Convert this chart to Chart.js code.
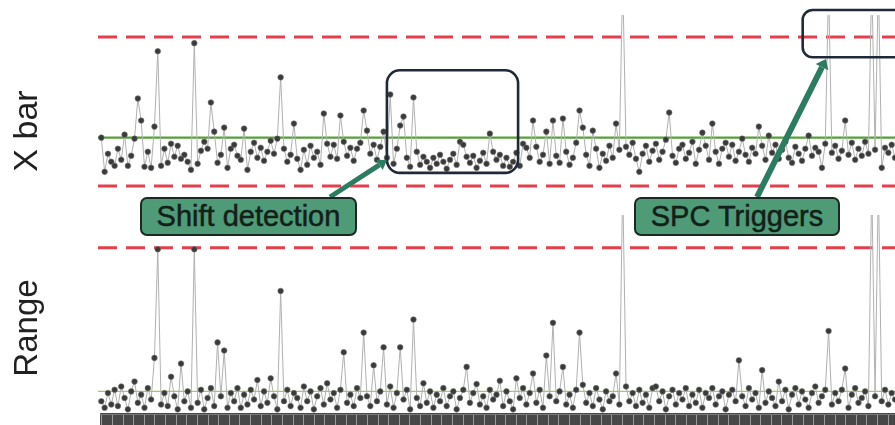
<!DOCTYPE html>
<html>
<head>
<meta charset="utf-8">
<script src="https://cdn.jsdelivr.net/npm/chart.js@4/dist/chart.umd.min.js"></script>
<style>
html, body { margin: 0; padding: 0; background: #fff; }
#wrap { position: relative; width: 895px; height: 425px; overflow: hidden; background: #fff;
        font-family: "Liberation Sans", Arial, sans-serif; }
#wrap canvas { position: absolute; left: 0; }
#cRange { top: 200px; z-index: 1; }
#cXbar { top: 0; z-index: 2; }
.axis-title { position: absolute; z-index: 3; color: #202020; white-space: nowrap;
              transform: translate(-50%, -50%) rotate(-90deg); }
#tX { left: 25px; top: 131px; font-size: 34px; line-height: 34px; }
#tR { left: 25px; top: 328px; font-size: 33px; line-height: 33px; }
.callout { position: absolute; z-index: 3; box-sizing: border-box; background: #4f9b77;
           border: 2px solid #1b2923; border-radius: 7px; color: #13201a;
           font-size: 29px; line-height: 35px; text-align: center; white-space: nowrap;
           -webkit-text-stroke: 0.5px #13201a; }
#lShift { left: 140px; top: 197px; width: 217px; height: 39px; }
#lSpc { left: 634px; top: 197px; width: 206px; height: 39px; }
</style>
</head>
<body>
<div id="wrap">
  <canvas id="cRange" width="895" height="225"></canvas>
  <canvas id="cXbar" width="895" height="245"></canvas>
  <div class="axis-title" id="tX">X bar</div>
  <div class="axis-title" id="tR">Range</div>
  <div class="callout" id="lShift">Shift detection</div>
  <div class="callout" id="lSpc">SPC Triggers</div>
</div>
<script>
// Subgroup means, one per sample (index = sample number)
const xbarValues = [
  50.0, 46.6, 48.4, 47.6, 47.2, 48.9, 47.8, 50.3, 47.2, 48.2, 49.9, 53.9, 51.7, 47.1, 48.6, 47.0, 51.1, 58.6, 47.2, 48.9,
  47.5, 49.4, 48.1, 49.2, 47.9, 48.3, 47.6, 46.8, 59.4, 47.4, 48.7, 49.6, 48.9, 53.5, 50.6, 47.5, 48.3, 51.0, 47.0, 48.9,
  49.3, 48.2, 47.8, 50.9, 46.8, 48.6, 49.5, 48.0, 49.0, 47.7, 48.6, 49.7, 48.4, 49.9, 56.0, 48.9, 47.6, 48.3, 51.4, 47.9,
  46.8, 48.8, 47.3, 49.2, 48.0, 48.6, 47.3, 52.4, 49.4, 48.1, 49.3, 47.9, 52.2, 49.6, 48.2, 49.0, 47.7, 48.9, 49.5, 52.7,
  50.7, 48.4, 49.3, 47.8, 49.1, 50.6, 48.0, 54.3, 47.4, 48.9, 51.2, 52.1, 48.0, 47.1, 54.0, 48.6, 47.3, 48.1, 47.6, 47.0,
  48.0, 47.4, 48.3, 47.6, 46.9, 47.8, 48.4, 47.3, 49.6, 49.3, 48.1, 47.5, 48.2, 47.0, 47.7, 48.5, 47.4, 50.4, 48.6, 47.8,
  48.3, 47.2, 48.0, 47.1, 47.6, 48.5, 47.2, 49.4, 49.0, 48.0, 51.7, 49.1, 47.6, 48.3, 50.6, 47.4, 51.7, 48.2, 47.5, 51.9,
  48.6, 47.3, 48.0, 49.5, 52.7, 51.0, 48.3, 47.2, 50.7, 48.9, 47.0, 48.4, 47.7, 49.2, 48.0, 51.4, 48.8, 66.0, 49.1, 48.3,
  49.5, 47.9, 46.6, 48.4, 49.2, 47.6, 48.7, 49.4, 47.8, 48.6, 49.8, 52.5, 48.2, 47.5, 48.9, 49.3, 47.9, 48.5, 49.6, 47.4,
  48.8, 50.5, 49.2, 47.8, 51.4, 48.6, 47.4, 48.9, 49.5, 48.1, 49.3, 47.7, 48.6, 49.9, 48.3, 47.6, 49.0, 48.4, 51.1, 49.2,
  47.8, 50.2, 48.5, 49.3, 47.9, 48.8, 49.6, 48.0, 47.5, 49.1, 48.4, 47.7, 48.9, 50.2, 48.2, 49.0, 48.6, 47.0, 49.4, 65.0,
  48.5, 49.2, 47.9, 48.7, 51.7, 48.3, 49.5, 47.8, 48.9, 48.2, 49.6, 48.4, 66.0, 48.8, 65.5, 47.0, 49.0, 48.5, 49.3, 48.0
];

// Subgroup ranges, same samples
const rangeValues = [
  0.6, 0.2, 1.1, 0.4, 1.3, 0.3, 1.5, 0.8, 0.1, 1.2, 1.8, 0.5, 1.0, 0.2, 1.4, 0.7, 3.25, 9.9, 0.4, 1.1,
  0.3, 2.1, 0.9, 0.1, 2.9, 0.6, 1.2, 0.2, 9.9, 0.5, 1.3, 0.1, 0.8, 1.4, 0.3, 4.2, 0.9, 3.7, 0.2, 1.1,
  0.6, 1.4, 0.2, 1.0, 0.4, 1.3, 0.7, 1.9, 0.3, 1.2, 0.5, 2.0, 0.9, 0.1, 7.35, 0.6, 1.3, 0.3, 1.1, 0.8,
  0.2, 1.5, 0.6, 1.2, 0.1, 0.9, 1.4, 0.4, 1.7, 0.7, 1.1, 0.2, 1.3, 3.6, 0.5, 1.0, 0.3, 1.4, 0.8, 4.8,
  0.9, 0.3, 2.8, 0.6, 1.2, 3.9, 0.4, 1.5, 0.2, 1.1, 3.9, 0.7, 1.3, 0.1, 5.6, 0.8, 0.3, 1.7, 0.5, 1.2,
  0.2, 1.0, 0.6, 1.4, 0.3, 0.9, 1.2, 0.1, 0.8, 1.3, 2.7, 0.5, 1.1, 1.65, 0.4, 0.9, 0.2, 1.3, 0.7, 1.0,
  1.85, 0.3, 1.2, 0.6, 0.1, 2.0, 0.8, 1.4, 0.4, 1.1, 2.3, 0.5, 1.3, 0.2, 3.4, 0.9, 5.4, 0.6, 1.2, 2.7,
  0.4, 1.0, 0.2, 1.3, 4.8, 1.6, 0.5, 1.1, 0.3, 1.4, 0.7, 0.1, 1.2, 0.6, 0.9, 2.3, 0.4, 14.0, 1.5, 0.6,
  1.1, 0.3, 1.3, 0.5, 1.0, 0.2, 1.4, 1.5, 0.6, 1.2, 0.1, 0.9, 1.3, 0.4, 1.1, 0.7, 1.4, 0.3, 1.0, 0.5,
  1.3, 0.2, 1.1, 0.8, 1.4, 0.4, 0.9, 1.2, 0.1, 1.0, 1.3, 0.6, 3.1, 0.9, 0.3, 1.4, 0.7, 1.1, 0.2, 2.5,
  0.5, 1.2, 0.8, 0.3, 1.8, 0.6, 1.3, 0.1, 1.0, 1.4, 0.4, 1.2, 0.7, 0.2, 1.1, 1.5, 0.5, 0.9, 1.3, 4.9,
  0.4, 1.1, 0.6, 1.3, 2.6, 0.2, 1.0, 1.4, 0.5, 0.8, 1.2, 0.3, 14.0, 0.9, 14.0, 0.6, 1.3, 0.4, 1.1, 0.7
];

// Control limits
const xbarLimits = { ucl: 60.0, center: 50.0, lcl: 45.2 };
const rangeLimits = { ucl: 10.0, center: 1.2 };

// Visible value windows of the two panels
const xbarAxis = { min: 43.8, max: 62.2 };
const rangeAxis = { min: 0, max: 12 };
const sampleAxis = { min: -1, max: xbarValues.length - 1 };

// Highlight frames on the X bar panel (sample span, value span)
const frames = [
  { from: 86, to: 125.5, hi: 56.7, lo: 46.5, radius: 13 },
  { from: 211.2, to: 246, hi: 62.7, lo: 58.0, radius: 10 }
];
// Pointers from the callouts up to the frames (page pixels)
const pointers = [
  { from: [330, 197], to: [387, 160], width: 5 },
  { from: [757, 197], to: [826, 59], width: 6 }
];

const toPoints = arr => arr.map((v, i) => ({ x: i, y: v }));
const flat = v => [{ x: sampleAxis.min, y: v }, { x: sampleAxis.max, y: v }];

const seriesStyle = {
  borderColor: '#b0b0b0',
  borderWidth: 1,
  pointRadius: 2.8,
  pointBackgroundColor: '#3a3a3a',
  pointBorderColor: '#6e6e6e',
  pointBorderWidth: 0.6,
  tension: 0,
  order: 0,
  clip: { left: 6, top: 0, right: 0, bottom: 4 }
};
const limitStyle = {
  borderColor: '#e3404e', borderWidth: 3, borderDash: [19, 9],
  pointRadius: 0, order: 3, clip: false
};

const baseOptions = (yRange, pad) => ({
  responsive: false,
  animation: false,
  devicePixelRatio: 1,
  events: [],
  layout: { padding: pad, autoPadding: false },
  plugins: { legend: { display: false }, tooltip: { enabled: false } },
  scales: {
    x: { type: 'linear', min: sampleAxis.min, max: sampleAxis.max, display: false },
    y: { type: 'linear', min: yRange.min, max: yRange.max, display: false }
  }
});

function roundRectPath(ctx, x, y, w, h, r) {
  ctx.beginPath();
  ctx.moveTo(x + r, y);
  ctx.lineTo(x + w - r, y);
  ctx.arcTo(x + w, y, x + w, y + r, r);
  ctx.lineTo(x + w, y + h - r);
  ctx.arcTo(x + w, y + h, x + w - r, y + h, r);
  ctx.lineTo(x + r, y + h);
  ctx.arcTo(x, y + h, x, y + h - r, r);
  ctx.lineTo(x, y + r);
  ctx.arcTo(x, y, x + r, y, r);
  ctx.closePath();
}

// Frames and pointer arrows drawn over the X bar panel
const annotationLayer = {
  id: 'annotationLayer',
  afterDatasetsDraw(chart) {
    const { ctx, scales: { x, y } } = chart;
    ctx.save();
    ctx.strokeStyle = '#1e2a38';
    ctx.lineWidth = 2.6;
    frames.forEach(f => {
      const l = x.getPixelForValue(f.from), r = x.getPixelForValue(f.to);
      const t = y.getPixelForValue(f.hi), b = y.getPixelForValue(f.lo);
      roundRectPath(ctx, l, t, r - l, b - t, f.radius);
      ctx.stroke();
    });
    ctx.strokeStyle = '#2d7b60';
    ctx.fillStyle = '#2d7b60';
    ctx.lineCap = 'butt';
    pointers.forEach(p => {
      const [x0, y0] = p.from, [x1, y1] = p.to;
      const ang = Math.atan2(y1 - y0, x1 - x0);
      const head = 9, half = p.width + 1;
      const bx = x1 - Math.cos(ang) * head, by = y1 - Math.sin(ang) * head;
      ctx.lineWidth = p.width;
      ctx.beginPath(); ctx.moveTo(x0, y0); ctx.lineTo(bx, by); ctx.stroke();
      ctx.beginPath();
      ctx.moveTo(x1, y1);
      ctx.lineTo(bx + Math.sin(ang) * half, by - Math.cos(ang) * half);
      ctx.lineTo(bx - Math.sin(ang) * half, by + Math.cos(ang) * half);
      ctx.closePath(); ctx.fill();
    });
    ctx.restore();
  }
};

// Dark sample ruler under the Range panel
const sampleRuler = {
  id: 'sampleRuler',
  afterDraw(chart) {
    const { ctx, chartArea: a, scales: { x } } = chart;
    const top = a.bottom + 2, bottom = chart.height;
    ctx.save();
    ctx.fillStyle = '#474747';
    ctx.fillRect(a.left + 2, top, a.right - a.left, bottom - top);
    ctx.strokeStyle = '#9a9a9a';
    ctx.lineWidth = 1;
    for (let v = 0; v <= x.max; v += 3.2) {
      const px = Math.round(x.getPixelForValue(v)) + 0.5;
      ctx.beginPath(); ctx.moveTo(px, top + 2); ctx.lineTo(px, bottom); ctx.stroke();
    }
    ctx.strokeStyle = '#7a7a7a';
    ctx.beginPath(); ctx.moveTo(a.left + 2, top + 1.5); ctx.lineTo(a.right, top + 1.5); ctx.stroke();
    ctx.restore();
  }
};

new Chart(document.getElementById('cXbar'), {
  type: 'line',
  data: {
    datasets: [
      { label: 'X bar', data: toPoints(xbarValues), ...seriesStyle },
      { label: 'Center', data: flat(xbarLimits.center), borderColor: '#56a03a', borderWidth: 2.2,
        pointRadius: 0, order: 1, clip: false },
      { label: 'UCL', data: flat(xbarLimits.ucl), ...limitStyle },
      { label: 'LCL', data: flat(xbarLimits.lcl), ...limitStyle }
    ]
  },
  options: baseOptions(xbarAxis, { left: 98, right: 0, top: 15, bottom: 45 }),
  plugins: [annotationLayer]
});

new Chart(document.getElementById('cRange'), {
  type: 'line',
  data: {
    datasets: [
      { label: 'Range', data: toPoints(rangeValues), ...seriesStyle },
      { label: 'Center', data: flat(rangeLimits.center), borderColor: '#9ccd62', borderWidth: 1.3,
        pointRadius: 0, order: 1, clip: false },
      { label: 'UCL', data: flat(rangeLimits.ucl), ...limitStyle }
    ]
  },
  options: baseOptions(rangeAxis, { left: 98, right: 0, top: 15, bottom: 14 }),
  plugins: [sampleRuler]
});
</script>
</body>
</html>
